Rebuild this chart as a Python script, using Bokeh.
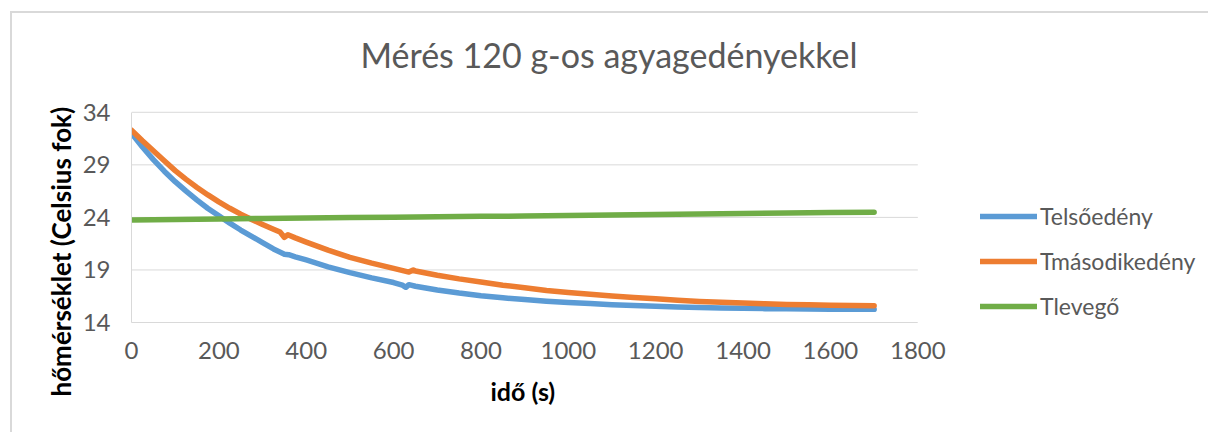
from bokeh.plotting import figure
from bokeh.models import (Legend, LegendItem, FixedTicker, Range1d, Title,
                          Label)
from bokeh.embed import file_html
from bokeh.resources import INLINE

# Time (s) and temperature (Celsius) series
t_elso = [0, 25, 50, 75, 100, 125, 150, 175, 200, 225, 250, 275, 300, 325, 350,
          360, 375, 400, 450, 500, 550, 600, 620, 628, 635, 650, 700, 750, 800,
          850, 900, 950, 1000, 1050, 1100, 1150, 1200, 1250, 1300, 1350, 1400,
          1450, 1500, 1550, 1600, 1650, 1700]
T_elso = [32.0, 30.7, 29.5, 28.4, 27.4, 26.5, 25.65, 24.85, 24.15, 23.45, 22.8,
          22.2, 21.6, 21.0, 20.5, 20.45, 20.25, 19.95, 19.3, 18.75, 18.25, 17.8,
          17.55, 17.35, 17.6, 17.45, 17.1, 16.8, 16.55, 16.35, 16.18, 16.03,
          15.9, 15.8, 15.7, 15.62, 15.55, 15.48, 15.42, 15.38, 15.35, 15.32,
          15.3, 15.28, 15.27, 15.26, 15.25]

t_masodik = [0, 25, 50, 75, 100, 125, 150, 175, 200, 225, 250, 275, 300, 325,
             340, 350, 358, 375, 400, 450, 500, 550, 600, 635, 645, 650, 700,
             750, 800, 850, 900, 950, 1000, 1050, 1100, 1150, 1200, 1250, 1300,
             1350, 1400, 1450, 1500, 1550, 1600, 1650, 1700]
T_masodik = [32.3, 31.3, 30.35, 29.38, 28.45, 27.62, 26.85, 26.14, 25.48, 24.87,
             24.31, 23.8, 23.33, 22.88, 22.6, 22.1, 22.35, 22.05, 21.65, 20.88,
             20.2, 19.65, 19.15, 18.8, 19.0, 18.9, 18.5, 18.15, 17.85, 17.55,
             17.3, 17.05, 16.85, 16.68, 16.52, 16.38, 16.25, 16.12, 16.0, 15.92,
             15.85, 15.78, 15.72, 15.68, 15.65, 15.62, 15.6]

t_levego = [0, 100, 200, 300, 400, 500, 600, 700, 800, 900, 1000, 1100, 1200,
            1300, 1400, 1500, 1600, 1700]
T_levego = [23.75, 23.8, 23.85, 23.9, 23.95, 24.0, 24.02, 24.05, 24.1, 24.13,
            24.18, 24.22, 24.27, 24.33, 24.38, 24.42, 24.46, 24.48]

x_ticks = [0, 200, 400, 600, 800, 1000, 1200, 1400, 1600, 1800]
y_ticks = [14, 19, 24, 29, 34]

chart_title = "Mérés 120 g-os agyagedényekkel"
series_names = ["Telsőedény", "Tmásodikedény", "Tlevegő"]
series_colors = ["#5B9BD5", "#ED7D31", "#70AD47"]

FONT = "Lato"
GRAY_TEXT = "#595959"
GRID = "#D9D9D9"

X_MAX = 1800          # last labelled time on the axis
X_VIEW_END = 2470     # frame continues to the right, under the legend
Y_MIN, Y_MAX = 14, 34
Y_VIEW_END = 43.4     # frame continues upwards, under the chart title

p = figure(width=1198, height=421, output_backend="svg", toolbar_location=None,
           x_range=Range1d(0, X_VIEW_END), y_range=Range1d(Y_MIN, Y_VIEW_END),
           min_border_left=119, min_border_right=0,
           min_border_top=0, min_border_bottom=112)

# light chart-area border on the top and left
p.styles = {"margin-left": "10px", "margin-top": "11px",
            "border-left": "2px solid #D9D9D9",
            "border-top": "2px solid #D9D9D9"}

p.outline_line_color = None
p.background_fill_color = "white"
p.border_fill_color = "white"

# horizontal gridlines at the value-axis ticks, spanning the time axis
p.segment(x0=0, x1=X_MAX, y0=y_ticks, y1=y_ticks, line_color=GRID,
          line_width=1, level="underlay")

renderers = []
for tx, ty, color in zip([t_elso, t_masodik, t_levego],
                         [T_elso, T_masodik, T_levego], series_colors):
    r = p.line(tx, ty, line_color=color, line_width=5.5,
               line_join="round", line_cap="round")
    renderers.append(r)

p.xaxis.ticker = FixedTicker(ticks=x_ticks)
p.yaxis.ticker = FixedTicker(ticks=y_ticks)
p.xaxis.bounds = (0, X_MAX)
p.yaxis.bounds = (Y_MIN, Y_MAX)
for ax in (p.xaxis[0], p.yaxis[0]):
    ax.axis_line_color = GRID
    ax.axis_line_width = 1
    ax.major_tick_line_color = None
    ax.minor_tick_line_color = None
    ax.major_tick_out = 0
    ax.major_tick_in = 0
    ax.minor_tick_out = 0
    ax.major_label_text_font = FONT
    ax.major_label_text_font_size = "24px"
    ax.major_label_text_color = GRAY_TEXT
p.xaxis.major_label_standoff = 19
p.yaxis.major_label_standoff = 21

p.xgrid.grid_line_color = None
p.ygrid.grid_line_color = None

# chart title
p.add_layout(Label(x=229, y=268, x_units="screen", y_units="screen",
                   text=chart_title, text_font=FONT, text_font_size="34px",
                   text_color=GRAY_TEXT, text_align="left",
                   text_baseline="alphabetic"))

# axis titles, placed under the time axis and beside the value axis
xtitle = Title(text="idő (s)", align="left", offset=359, standoff=28,
               vertical_align="top", text_font=FONT, text_font_size="25px",
               text_font_style="bold", text_color="black")
p.add_layout(xtitle, "below")

ytitle = Title(text="hőmérséklet (Celsius fok)", align="left", offset=-74,
               standoff=6, text_font=FONT, text_font_size="26px",
               text_font_style="bold", text_color="black")
p.add_layout(ytitle, "left")

legend = Legend(items=[LegendItem(label=n, renderers=[r])
                       for n, r in zip(series_names, renderers)],
                location=(849, 2), orientation="vertical")
legend.label_text_font = FONT
legend.label_text_font_size = "23px"
legend.label_text_color = GRAY_TEXT
legend.glyph_width = 57
legend.glyph_height = 24
legend.label_height = 24
legend.label_standoff = 3
legend.spacing = 17
legend.padding = 0
legend.margin = 0
legend.border_line_color = None
legend.background_fill_alpha = 0
p.add_layout(legend)

open("out.html", "w").write(file_html(p, INLINE))
